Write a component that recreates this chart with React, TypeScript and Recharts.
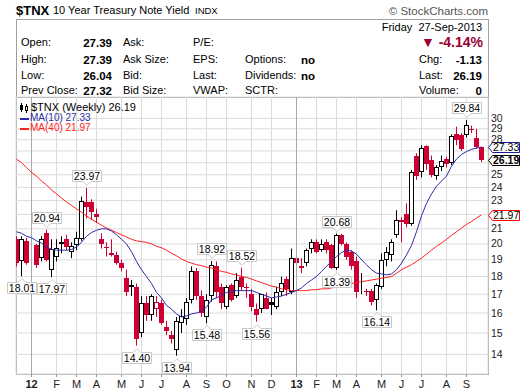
import React from 'react';
import { ComposedChart, Bar, Line, XAxis, YAxis, CartesianGrid, ReferenceLine, ReferenceDot } from 'recharts';

const FONT = 'Arial, "Liberation Sans", sans-serif';
const RED = '#cc0033';
const MA10_COLOR = '#2b2ba8';
const MA40_COLOR = '#ff2020';

// weekly candles: week 0 = 16-Dec-2011 ... week 93 = 27-Sep-2013
const opens = [
  20.3, 18.9, 20.2, 20.0, 19.9, 19.1, 20.7, 18.4, 19.2, 20.0,
  20.3, 19.5, 19.9, 20.3, 22.9, 22.9, 22.0, 20.3, 19.8, 19.3,
  19.3, 18.8, 17.9, 17.4, 17.4, 15.0, 16.5, 15.9, 16.2, 16.5,
  15.3, 14.9, 14.2, 15.5, 15.7, 16.7, 18.3, 16.9, 15.8, 16.9,
  18.6, 17.4, 16.3, 17.5, 16.9, 18.0, 17.4, 17.0, 16.2, 16.2,
  16.8, 16.6, 16.3, 17.1, 17.85, 17.1, 19.1, 18.6, 18.8, 19.7,
  20.1, 19.6, 20.1, 19.9, 18.5, 20.6, 20.0, 19.5, 18.9, 17.2,
  17.2, 17.2, 16.7, 17.4, 19.0, 19.3, 20.6, 21.6, 22.0, 21.3,
  26.6, 25.2, 27.4, 26.2, 24.9, 25.6, 26.3, 26.0, 28.5, 28.4,
  28.4, 29.0, 28.2, 27.39,
];
const highs = [
  20.5, 20.5, 20.4, 20.3, 20.0, 20.5, 20.94, 20.3, 20.3, 20.5,
  20.6, 20.1, 20.8, 23.3, 23.97, 23.1, 22.4, 20.7, 20.1, 20.3,
  19.5, 19.0, 18.4, 17.8, 17.6, 16.9, 16.9, 17.0, 16.9, 16.7,
  15.6, 15.1, 15.8, 16.2, 16.8, 18.6, 18.5, 17.2, 17.0, 18.92,
  18.9, 17.6, 17.5, 17.6, 18.2, 18.52, 17.6, 17.3, 16.5, 17.0,
  17.1, 16.8, 17.4, 18.0, 18.0, 19.7, 19.3, 19.1, 19.7, 20.3,
  20.3, 20.3, 20.3, 20.0, 20.68, 20.65, 20.1, 19.6, 19.2, 18.2,
  17.3, 17.3, 17.6, 19.4, 19.8, 20.3, 22.3, 21.8, 22.8, 25.4,
  26.8, 27.5, 27.5, 26.6, 25.8, 26.6, 26.5, 28.5, 29.2, 28.6,
  29.84, 29.3, 29.0, 27.39,
];
const lows = [
  18.6, 18.01, 18.7, 19.3, 18.5, 18.9, 18.9, 17.97, 18.9, 19.4,
  19.6, 19.1, 19.6, 20.2, 21.7, 21.6, 21.4, 19.7, 19.2, 19.2,
  18.7, 18.3, 16.9, 16.9, 14.4, 14.8, 15.6, 15.6, 15.8, 15.4,
  14.9, 14.5, 13.94, 15.0, 15.4, 16.5, 16.7, 15.8, 15.48, 16.6,
  16.8, 16.2, 16.2, 16.6, 16.8, 17.2, 16.8, 16.1, 15.56, 16.0,
  16.2, 15.9, 16.2, 16.9, 16.9, 17.0, 18.6, 18.2, 18.6, 19.4,
  19.4, 19.5, 19.4, 18.45, 18.39, 19.9, 19.0, 18.4, 16.8, 17.0,
  16.9, 16.4, 16.14, 17.3, 18.6, 18.9, 20.4, 20.1, 21.1, 21.2,
  24.6, 24.8, 25.4, 24.8, 24.6, 25.3, 25.6, 25.8, 27.5, 27.0,
  28.2, 28.6, 27.2, 26.04,
];
const closes = [
  18.8, 20.3, 18.8, 20.05, 18.7, 20.3, 19.0, 19.7, 19.75, 20.1,
  19.8, 19.85, 20.4, 23.0, 22.5, 22.2, 21.8, 20.0, 19.75, 19.4,
  18.8, 18.5, 17.1, 17.5, 14.7, 16.5, 15.9, 16.9, 16.6, 15.5,
  15.1, 14.7, 15.6, 15.85, 16.6, 18.3, 16.9, 16.0, 16.7, 18.7,
  17.1, 16.5, 17.4, 16.7, 17.8, 17.4, 17.35, 16.3, 15.9, 17.0,
  16.2, 16.4, 17.1, 17.6, 17.3, 19.1, 18.8, 18.5, 19.6, 20.1,
  19.5, 20.0, 19.6, 18.5, 20.6, 20.0, 19.2, 18.6, 17.1, 17.25,
  17.1, 16.6, 17.5, 19.0, 19.5, 20.1, 21.6, 21.5, 21.3, 25.2,
  24.9, 27.3, 25.9, 25.0, 25.6, 26.1, 25.9, 28.3, 28.0, 27.2,
  29.4, 28.95, 27.32, 26.19,
];
const ma10 = [
  20.8, 20.7, 20.5, 20.4, 20.2, 20.05, 19.8, 19.65, 19.6, 19.6,
  19.6, 19.65, 19.8, 20.1, 20.5, 20.75, 20.9, 21.0, 21.0, 20.85,
  20.6, 20.3, 20.0, 19.5, 18.9, 18.4, 18.0, 17.6, 17.1, 16.8,
  16.4, 16.2, 15.95, 15.8, 15.85, 15.95, 16.0, 16.1, 16.3, 16.7,
  16.8, 16.95, 17.1, 17.15, 17.2, 17.2, 17.2, 17.2, 17.1, 17.0,
  16.9, 16.8, 16.85, 16.9, 17.0, 17.1, 17.2, 17.35, 17.6, 17.8,
  18.0, 18.3, 18.6, 18.9, 19.2, 19.45, 19.6, 19.55, 19.35, 19.0,
  18.7, 18.4, 18.2, 18.15, 18.1, 18.15, 18.4, 18.8, 19.3, 19.9,
  20.8, 21.9, 22.8, 23.5, 24.1, 24.5, 24.9, 25.7, 26.3, 26.7,
  26.95, 27.15, 27.25, 27.33,
];
const ma40 = [
  26.3, 26.0, 25.6, 25.2, 24.9, 24.5, 24.2, 23.8, 23.5, 23.2,
  22.9, 22.65, 22.4, 22.15, 21.9, 21.65, 21.45, 21.25, 21.05, 20.9,
  20.75, 20.6, 20.45, 20.3, 20.2, 20.15, 20.1, 20.0, 19.85, 19.75,
  19.6, 19.4, 19.25, 19.05, 18.9, 18.8, 18.7, 18.65, 18.55, 18.5,
  18.4, 18.3, 18.25, 18.15, 18.1, 18.0, 17.95, 17.85, 17.75, 17.65,
  17.55, 17.45, 17.4, 17.3, 17.25, 17.2, 17.2, 17.2, 17.2, 17.25,
  17.25, 17.3, 17.3, 17.35, 17.4, 17.45, 17.5, 17.6, 17.65, 17.7,
  17.75, 17.8, 17.85, 17.9, 17.95, 18.0, 18.2, 18.4, 18.55, 18.7,
  18.9, 19.1, 19.35, 19.6, 19.85, 20.05, 20.3, 20.55, 20.8, 21.05,
  21.3, 21.5, 21.75, 21.97,
];

// first full week of each month
const monthWeeks = [3, 8, 12, 16, 21, 25, 29, 34, 38, 42, 47, 51, 56, 60, 64, 68, 73, 77, 81, 86, 90];
const monthLabels = ['12', 'F', 'M', 'A', 'M', 'J', 'J', 'A', 'S', 'O', 'N', 'D', '13', 'F', 'M', 'A', 'M', 'J', 'J', 'A', 'S'];
const yearWeeks = [3, 56];

const yTicks = [14, 15, 16, 17, 18, 19, 20, 21, 22, 23, 24, 25, 26, 27, 28, 29, 30];
const hiddenTicks = [22, 26, 27];

const calloutWeeks = [1, 6, 7, 14, 24, 32, 38, 39, 45, 48, 64, 64, 72, 90];
const calloutSides = ['low', 'high', 'low', 'high', 'low', 'low', 'low', 'high', 'high', 'low', 'high', 'low', 'low', 'high'];

const data = opens.map((o, i) => ({
  i,
  o,
  h: highs[i],
  l: lows[i],
  c: closes[i],
  prev: i > 0 ? closes[i - 1] : Infinity,
  range: [lows[i], highs[i]],
  ma10: ma10[i],
  ma40: ma40[i],
}));

const Candle = (props: any) => {
  const { x, y, width, height, payload } = props;
  if (x == null || payload == null) return <g />;
  const top = Math.min(y, y + height);
  const bot = Math.max(y, y + height);
  const { o, h, l, c, prev } = payload;
  const span = Math.log(h) - Math.log(l) || 1;
  const at = (v: number) => top + ((Math.log(h) - Math.log(v)) / span) * (bot - top);
  const cx = Math.floor(x + width / 2) + 0.5;
  const color = c < prev ? RED : '#000';
  let bTop = Math.round(at(Math.max(o, c)));
  let bBot = Math.round(at(Math.min(o, c)));
  if (bBot - bTop < 1) bBot = bTop + 1;
  if (c > o) {
    return (
      <g>
        <line x1={cx} x2={cx} y1={top} y2={bTop + 0.5} stroke={color} />
        <line x1={cx} x2={cx} y1={bBot - 0.5} y2={bot} stroke={color} />
        <rect x={cx - 2} y={bTop + 0.5} width={4} height={Math.max(bBot - bTop - 1, 0)} fill="#fff" stroke={color} />
      </g>
    );
  }
  return (
    <g>
      <line x1={cx} x2={cx} y1={top} y2={bot} stroke={color} />
      <rect x={cx - 2.5} y={bTop} width={5} height={bBot - bTop} fill={color} />
    </g>
  );
};

const Callout = (props: any) => {
  const { cx, cy, side, text } = props;
  if (cx == null) return <g />;
  const w = 29;
  const hgt = 11;
  const x0 = Math.round(cx - w / 2) + 0.5;
  if (side === 'high') {
    const b = Math.round(cy) - 6.5;
    const t = b - hgt;
    return (
      <g>
        <path d={`M${x0},${t} H${x0 + w} V${b} H${x0 + w / 2 + 4} L${x0 + w / 2},${b + 4} L${x0 + w / 2 - 4},${b} H${x0} Z`} fill="#fff" stroke="#c8c8c8" />
        <text x={x0 + w / 2} y={b - 2} textAnchor="middle" fontSize={10.5} fontFamily={FONT} fill="#000">{text}</text>
      </g>
    );
  }
  const t = Math.round(cy) + 6.5;
  const b = t + hgt;
  return (
    <g>
      <path d={`M${x0},${t} H${x0 + w / 2 - 4} L${x0 + w / 2},${t - 4} L${x0 + w / 2 + 4},${t} H${x0 + w} V${b} H${x0} Z`} fill="#fff" stroke="#c8c8c8" />
      <text x={x0 + w / 2} y={b - 2} textAnchor="middle" fontSize={10.5} fontFamily={FONT} fill="#000">{text}</text>
    </g>
  );
};

const renderYTick = (props: any) => {
  const { y, payload } = props;
  if (hiddenTicks.includes(payload.value)) return <g />;
  return (
    <text x={491} y={y + 3.5} fontSize={10.5} fontFamily={FONT} fill="#222">{payload.value}</text>
  );
};

const renderXTick = (props: any) => {
  const { x, payload } = props;
  const k = monthWeeks.indexOf(payload.value);
  const bold = yearWeeks.includes(payload.value);
  return (
    <g>
      <line x1={x} x2={x} y1={374} y2={377} stroke="#999" />
      <text x={x} y={388} textAnchor="middle" fontSize={11} fontWeight={bold ? 'bold' : 'normal'} fontFamily={FONT} fill="#222">{monthLabels[k]}</text>
    </g>
  );
};

const tag = (text: string, color: string, bold: boolean) => (props: any) => {
  const vb = props.viewBox;
  if (!vb) return <g />;
  const y = Math.round(vb.y) + 0.5;
  const x0 = 488.5;
  return (
    <g>
      <path d={`M${x0},${y} L${x0 + 4},${y - 5} H519.5 V${y + 5} H${x0 + 4} Z`} fill="#fff" stroke={color} />
      <text x={493} y={y + 3.5} fontSize={10.5} fontWeight={bold ? 'bold' : 'normal'} fontFamily={FONT} fill="#000">{text}</text>
    </g>
  );
};

const Txt = (p: { x?: number; r?: number; y: number; size?: number; bold?: boolean; color?: string; children: any }) => {
  const size = p.size ?? 11;
  return (
    <div
      style={{
        position: 'absolute',
        left: p.r === undefined ? p.x : undefined,
        right: p.r !== undefined ? 520 - p.r : undefined,
        top: p.y - size * 0.55,
        fontSize: size,
        lineHeight: 1.05,
        fontWeight: p.bold ? 'bold' : 'normal',
        color: p.color ?? '#000',
        whiteSpace: 'nowrap',
      }}
    >
      {p.children}
    </div>
  );
};

export default function App() {
  return (
    <div style={{ position: 'absolute', left: 0, top: 0, width: 520, height: 391, background: '#fff', fontFamily: FONT, overflow: 'hidden' }}>
      {/* header */}
      <Txt x={16} y={11} size={13} bold>$TNX</Txt>
      <Txt x={53} y={11} size={11}>10 Year Treasury Note Yield</Txt>
      <Txt x={195} y={11.5} size={9.5}>INDX</Txt>
      <Txt r={488} y={11} size={11.5} color="#555">© StockCharts.com</Txt>

      {/* info box + plot frame */}
      <div style={{ position: 'absolute', left: 16, top: 19, width: 473, height: 356, boxSizing: 'border-box', border: '1px solid #a0a0a0' }} />
      <div style={{ position: 'absolute', left: 16, top: 97, width: 473, height: 1, background: '#a0a0a0' }} />

      <Txt r={482} y={28} size={11}>Friday&nbsp;&nbsp;27-Sep-2013</Txt>
      <Txt r={483} y={43} size={14} bold color="#990033">▼ -4.14%</Txt>

      <Txt x={21} y={43}>Open:</Txt>
      <Txt x={21} y={60}>High:</Txt>
      <Txt x={21} y={76}>Low:</Txt>
      <Txt x={21} y={91}>Prev Close:</Txt>
      <Txt r={112} y={43} size={11.5} bold>27.39</Txt>
      <Txt r={112} y={60} size={11.5} bold>27.39</Txt>
      <Txt r={112} y={76} size={11.5} bold>26.04</Txt>
      <Txt r={112} y={91} size={11.5} bold>27.32</Txt>

      <Txt x={123} y={43}>Ask:</Txt>
      <Txt x={123} y={60}>Ask Size:</Txt>
      <Txt x={123} y={76}>Bid:</Txt>
      <Txt x={123} y={91}>Bid Size:</Txt>

      <Txt x={193} y={43}>P/E:</Txt>
      <Txt x={193} y={60}>EPS:</Txt>
      <Txt x={193} y={76}>Last:</Txt>
      <Txt x={193} y={91}>VWAP:</Txt>

      <Txt x={245} y={60}>Options:</Txt>
      <Txt x={245} y={76}>Dividends:</Txt>
      <Txt x={245} y={91}>SCTR:</Txt>
      <Txt x={301} y={60} size={11.5} bold>no</Txt>
      <Txt x={301} y={76} size={11.5} bold>no</Txt>

      <Txt x={419} y={60}>Chg:</Txt>
      <Txt x={419} y={76}>Last:</Txt>
      <Txt x={419} y={91}>Volume:</Txt>
      <Txt r={482} y={60} size={11.5} bold>-1.13</Txt>
      <Txt r={482} y={76} size={11.5} bold>26.19</Txt>
      <Txt r={482} y={91} size={11.5} bold>0</Txt>

      <div style={{ position: 'absolute', left: 0, top: 0 }}>
        <ComposedChart width={520} height={391} data={data} margin={{ top: 97, right: 0, bottom: 0, left: 16 }}>
          <CartesianGrid stroke="#dcdcdc" />
          <XAxis
            dataKey="i"
            type="number"
            domain={[-0.1, 94.3]}
            ticks={monthWeeks}
            interval={0}
            height={17}
            axisLine={false}
            tickLine={false}
            tick={renderXTick}
            allowDataOverflow
          />
          <YAxis
            orientation="right"
            scale="log"
            domain={[13.14, 32.14]}
            ticks={yTicks}
            interval={0}
            width={32}
            axisLine={false}
            tickLine={false}
            tick={renderYTick}
            allowDataOverflow
          />
          {yearWeeks.map((w) => (
            <ReferenceLine key={w} x={w} stroke="#a8a8a8" />
          ))}
          <Bar dataKey="range" barSize={5} shape={Candle} isAnimationActive={false} />
          <Line dataKey="ma40" stroke={MA40_COLOR} strokeWidth={1} dot={false} isAnimationActive={false} />
          <Line dataKey="ma10" stroke={MA10_COLOR} strokeWidth={1} dot={false} isAnimationActive={false} />
          {calloutWeeks.map((w, k) => {
            const side = calloutSides[k];
            const v = side === 'high' ? highs[w] : lows[w];
            return (
              <ReferenceDot
                key={k}
                x={w}
                y={v}
                ifOverflow="visible"
                shape={(p: any) => <Callout {...p} side={side} text={v.toFixed(2)} />}
              />
            );
          })}
          <ReferenceLine y={27.33} stroke="none" label={tag('27.33', '#1a1a99', false)} />
          <ReferenceLine y={26.19} stroke="none" label={tag('26.19', '#000', true)} />
          <ReferenceLine y={21.97} stroke="none" label={tag('21.97', '#ff0000', false)} />
        </ComposedChart>
      </div>

      {/* legend */}
      <svg style={{ position: 'absolute', left: 19, top: 102 }} width={12} height={12}>
        <line x1={2.5} x2={2.5} y1={1} y2={10} stroke="#000" />
        <rect x={1} y={3} width={3} height={5} fill="#000" />
        <line x1={7.5} x2={7.5} y1={2} y2={11} stroke="#000" />
        <rect x={6.5} y={4.5} width={2} height={4} fill="#fff" stroke="#000" />
      </svg>
      <Txt x={31} y={108} size={11}>$TNX (Weekly) 26.19</Txt>
      <div style={{ position: 'absolute', left: 20, top: 118, width: 9, height: 2, background: MA10_COLOR }} />
      <Txt x={30} y={118.5} size={10} color={MA10_COLOR}>MA(10) 27.33</Txt>
      <div style={{ position: 'absolute', left: 20, top: 128, width: 9, height: 2, background: MA40_COLOR }} />
      <Txt x={30} y={128.5} size={10} color={MA40_COLOR}>MA(40) 21.97</Txt>
    </div>
  );
}
